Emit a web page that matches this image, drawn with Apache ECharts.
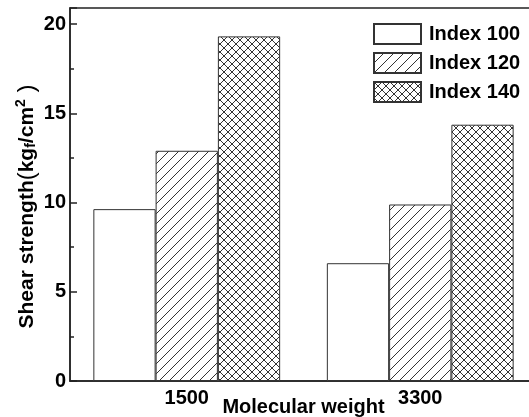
<!DOCTYPE html>
<html><head><meta charset="utf-8">
<script src="https://cdn.jsdelivr.net/npm/echarts@6/dist/echarts.min.js"></script>
<style>html,body{margin:0;padding:0;background:#fff}#c{width:529px;height:417px}</style>
</head><body><div id="c"></div>
<script>
const categories = ['1500', '3300'];
const seriesNames = ['Index 100', 'Index 120', 'Index 140'];
const index100 = [9.63, 6.6];
const index120 = [12.9, 9.89];
const index140 = [19.31, 14.36];
const yTicks = [0, 5, 10, 15, 20];

function makeHatch() {
  const c = document.createElement('canvas');
  c.width = 10; c.height = 10;
  const g = c.getContext('2d');
  g.fillStyle = '#fff'; g.fillRect(0, 0, 10, 10);
  g.strokeStyle = '#333'; g.lineWidth = 1;
  g.beginPath();
  g.moveTo(-1, 11); g.lineTo(11, -1);
  g.moveTo(-1, 1); g.lineTo(1, -1);
  g.moveTo(9, 11); g.lineTo(11, 9);
  g.stroke();
  return c;
}
function makeCross() {
  const s = 8;
  const c = document.createElement('canvas');
  c.width = s; c.height = s;
  const g = c.getContext('2d');
  g.fillStyle = '#fff'; g.fillRect(0, 0, s, s);
  g.strokeStyle = '#333'; g.lineWidth = 1;
  g.beginPath();
  g.moveTo(-1, s + 1); g.lineTo(s + 1, -1);
  g.moveTo(-1, -1); g.lineTo(s + 1, s + 1);
  g.stroke();
  return c;
}
const fills = ['#ffffff', { image: makeHatch(), repeat: 'repeat' }, { image: makeCross(), repeat: 'repeat' }];
const values = [index100, index120, index140];
const font = 'Liberation Sans, Arial, sans-serif';

const chart = echarts.init(document.getElementById('c'));
chart.setOption({
  animation: false,
  backgroundColor: '#fff',
  textStyle: { fontFamily: font },
  grid: { left: 70, top: 8, right: -8, bottom: 36, show: true, borderColor: '#222', borderWidth: 1.5,
    backgroundColor: 'transparent', containLabel: false, outerBoundsMode: 'none' },
  legend: {
    orient: 'vertical', left: 373, top: 23, padding: 0, itemWidth: 47, itemHeight: 20, itemGap: 7,
    icon: 'rect', data: seriesNames,
    textStyle: { fontSize: 20, fontWeight: 'bold', color: '#000', fontFamily: font, padding: [0, 0, 0, 3], lineHeight: 20 }
  },
  xAxis: {
    type: 'category', data: categories,
    axisLine: { lineStyle: { color: '#222', width: 1.5 } },
    axisTick: { show: false },
    axisLabel: { fontSize: 20, fontWeight: 'bold', color: '#000', margin: 7, fontFamily: font },
    name: 'Molecular weight', nameLocation: 'middle', nameGap: 16, nameMoveOverlap: false,
    nameTextStyle: { fontSize: 20, fontWeight: 'bold', color: '#000', fontFamily: font }
  },
  yAxis: {
    type: 'value', min: 0, max: 20.9, interval: 5,
    axisLine: { show: true, lineStyle: { color: '#222', width: 1.5 } },
    axisTick: { show: true, inside: true, length: 7, lineStyle: { color: '#222', width: 1.5 } },
    minorTick: { show: true, splitNumber: 2, length: 4, lineStyle: { color: '#222', width: 1.5 } },
    splitLine: { show: false },
    axisLabel: { fontSize: 20, fontWeight: 'bold', color: '#000', margin: 4, fontFamily: font,
      formatter: v => (yTicks.indexOf(v) >= 0 ? String(v) : '') },
    name: '{a|Shear strength}{p|(}{a|kg}{sub|f}{a|/cm}{sup|2}{p| )}',
    nameLocation: 'middle', nameRotate: 90, nameGap: 30, nameMoveOverlap: false,
    nameTextStyle: {
      padding: [0, 24, 0, 0],
      rich: {
        a: { fontSize: 21, fontWeight: 'bold', color: '#000', fontFamily: font },
        p: { fontSize: 24, color: '#000', fontFamily: font },
        sub: { fontSize: 14, fontWeight: 'bold', color: '#000', fontFamily: font, padding: [8, 0, 0, 0] },
        sup: { fontSize: 14, fontWeight: 'bold', color: '#000', fontFamily: font, padding: [0, 0, 12, 0] }
      }
    }
  },
  series: seriesNames.map((n, i) => ({
    name: n, type: 'bar', data: values[i],
    barGap: '0%', barCategoryGap: '20%',
    itemStyle: { color: fills[i], borderColor: '#333', borderWidth: 1 }
  }))
});
</script></body></html>
